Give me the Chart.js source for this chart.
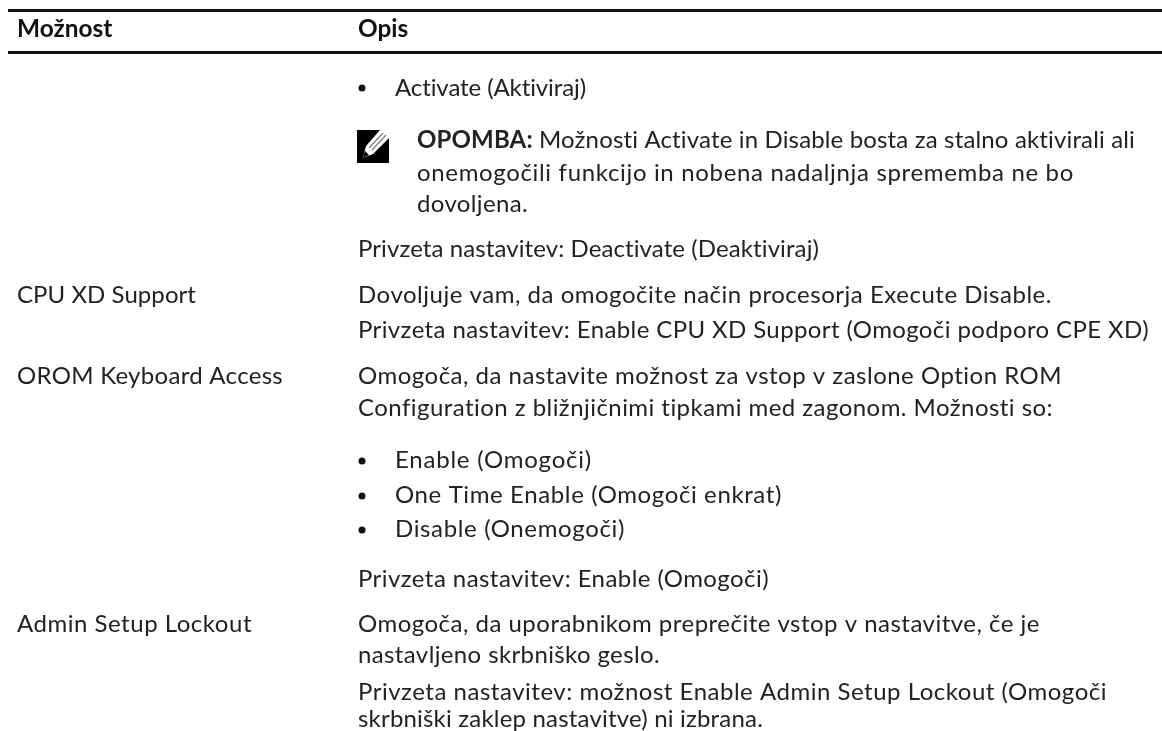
<!DOCTYPE html>
<html><head><meta charset="utf-8">
<script src="https://cdn.jsdelivr.net/npm/chart.js@4"></script>
<style>html,body{margin:0;padding:0;background:#fff}#w{width:1162px;height:731px}</style></head>
<body><div id="w"><canvas id="c"></canvas></div>
<script>
const columnHeaders = ["Možnost", "Opis"];
const optionNames = ["CPU XD Support", "OROM Keyboard Access", "Admin Setup Lockout"];
const optionRows = [303, 384, 632];
const optionEnds = [196, 283, 252];
const descriptionLines = [
 "Activate (Aktiviraj)",
 "OPOMBA: Možnosti Activate in Disable bosta za stalno aktivirali ali",
 "onemogočili funkcijo in nobena nadaljnja sprememba ne bo",
 "dovoljena.",
 "Privzeta nastavitev: Deactivate (Deaktiviraj)",
 "Dovoljuje vam, da omogočite način procesorja Execute Disable.",
 "Privzeta nastavitev: Enable CPU XD Support (Omogoči podporo CPE XD)",
 "Omogoča, da nastavite možnost za vstop v zaslone Option ROM",
 "Configuration z bližnjičnimi tipkami med zagonom. Možnosti so:",
 "Enable (Omogoči)",
 "One Time Enable (Omogoči enkrat)",
 "Disable (Onemogoči)",
 "Privzeta nastavitev: Enable (Omogoči)",
 "Omogoča, da uporabnikom preprečite vstop v nastavitve, če je",
 "nastavljeno skrbniško geslo.",
 "Privzeta nastavitev: možnost Enable Admin Setup Lockout (Omogoči",
 "skrbniški zaklep nastavitve) ni izbrana."
];
const descriptionRows = [96,148,181,212,257,303,338,384,416,468,503,537,587,632,663,700,727];
const descriptionIndent = [395,417,417,417,358,358,358,358,358,395,395,395,358,358,358,358,358];
const descriptionEnds = [586,1135,1074,528,819,1052,1149,1062,1053,592,782,625,769,1040,660,1107,763];
const bulletRows = [88,461,496,530];
const ruleRows = [10.5,52.5];
const FONT = '"Lato"';
const SIZE = '24px ';
const tablePlugin = {
 id:'tablePlugin',
 afterDatasetsDraw(ch){
  const {ctx,scales:{x,y}}=ch;
  ctx.save();
  ctx.textRendering='optimizeSpeed';
  ctx.fillStyle='#111';ctx.textBaseline='alphabetic';ctx.textAlign='left';
  ctx.font='bold 24.4px '+FONT;
  ctx.fillText(columnHeaders[0],x.getPixelForValue(17),y.getPixelForValue(37));
  ctx.fillText(columnHeaders[1],x.getPixelForValue(358),y.getPixelForValue(37));
  ctx.fillStyle='#222';
  const plain='400 '+SIZE+FONT, note='bold '+SIZE+FONT;
  const fit=(t,start,end,py,lead)=>{
    const px=x.getPixelForValue(start),target=x.getPixelForValue(end)-px;
    ctx.letterSpacing='0px';
    let w=0;
    if(lead){ctx.font=note;w+=ctx.measureText(lead).width;}
    ctx.font=plain;const rest=lead?t.slice(lead.length):t;w+=ctx.measureText(rest).width;
    ctx.letterSpacing=((target-w)/t.length).toFixed(3)+'px';
    let cx=px;
    if(lead){ctx.font=note;ctx.fillText(lead,cx,py);cx+=ctx.measureText(lead).width;ctx.font=plain;}
    ctx.fillText(rest,cx,py);
    ctx.letterSpacing='0px';
  };
  ctx.font=plain;
  optionNames.forEach((t,i)=>fit(t,17,optionEnds[i],y.getPixelForValue(optionRows[i])));
  descriptionLines.forEach((t,i)=>fit(t,descriptionIndent[i],descriptionEnds[i],y.getPixelForValue(descriptionRows[i]),t.startsWith('OPOMBA:')?'OPOMBA:':null));
  ctx.fillStyle='#111';
  bulletRows.forEach(r=>{ctx.beginPath();ctx.arc(x.getPixelForValue(362),y.getPixelForValue(r),3.5,0,7);ctx.fill();});
  const ix=x.getPixelForValue(357),iy=y.getPixelForValue(130);
  ctx.fillStyle='#000';ctx.fillRect(ix,iy,32,33);
  ctx.fillStyle='#fff';ctx.beginPath();ctx.moveTo(ix+23,iy);ctx.lineTo(ix+32,iy);ctx.lineTo(ix+32,iy+8);ctx.lineTo(ix+16,iy+24);ctx.lineTo(ix+6,iy+28);ctx.lineTo(ix+9,iy+16);ctx.closePath();ctx.fill();
  ctx.strokeStyle='#888';ctx.lineWidth=1.5;ctx.beginPath();ctx.moveTo(ix+26,iy+3);ctx.lineTo(ix+12,iy+18);ctx.moveTo(ix+29,iy+5);ctx.lineTo(ix+15,iy+20);ctx.stroke();
  ctx.fillStyle='#000';ctx.beginPath();ctx.moveTo(ix+6,iy+28);ctx.lineTo(ix+8,iy+21);ctx.lineTo(ix+12,iy+25);ctx.closePath();ctx.fill();
  ctx.restore();
 }
};
new Chart(document.getElementById('c'),{
 type:'scatter',
 data:{datasets:ruleRows.map(r=>({data:[{x:8,y:r},{x:1162,y:r}],showLine:true,borderColor:'#111',borderWidth:3,pointRadius:0}))},
 options:{responsive:true,maintainAspectRatio:false,animation:false,
  layout:{padding:0},
  plugins:{legend:{display:false},tooltip:{enabled:false}},
  scales:{x:{type:'linear',min:0,max:1162,display:false},y:{type:'linear',min:0,max:731,reverse:true,display:false}}},
 plugins:[tablePlugin]
});
</script></body></html>
